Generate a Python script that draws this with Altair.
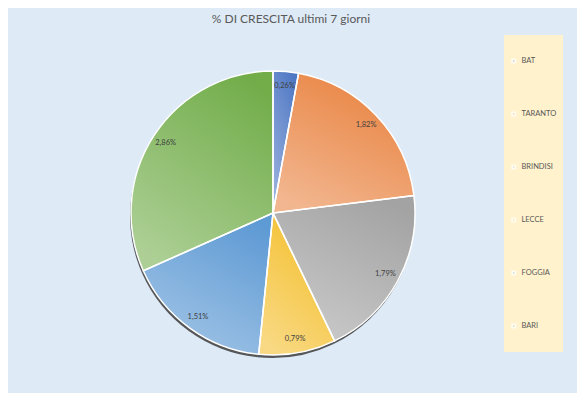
import altair as alt
import pandas as pd

# Data
provinces = ["BAT", "TARANTO", "BRINDISI", "LECCE", "FOGGIA", "BARI"]
growth = [0.26, 1.82, 1.79, 0.79, 1.51, 2.86]
colors = ["#4F78C4", "#E9823F", "#A3A3A3", "#F4BE2A", "#5E9AD4", "#72AD4A"]

df = pd.DataFrame({
    "provincia": provinces,
    "crescita": growth,
    "ordine": list(range(len(provinces))),
    "etichetta": [f"{v:.2f}%".replace(".", ",") for v in growth],
})

R = 142
FONT = "Lato"

base = alt.Chart(df)
theta = alt.Theta("crescita:Q", stack=True)
order = alt.Order("ordine:Q", sort="ascending")

shadow = base.mark_arc(outerRadius=R, yOffset=3, xOffset=-1, color="#3C3C3C", opacity=0.85).encode(
    theta=theta, order=order, detail="provincia:N"
)

slices = base.mark_arc(outerRadius=R).encode(
    theta=theta,
    order=order,
    color=alt.Color(
        "provincia:N",
        sort=provinces,
        scale=alt.Scale(domain=provinces, range=colors),
        legend=alt.Legend(
            orient="none", legendX=496, legendY=1, title=None,
            fillColor="#FFF2CC", padding=6, clipHeight=40, rowPadding=13,
            symbolType="square", symbolSize=9, symbolStrokeColor="white",
            symbolStrokeWidth=2, symbolOpacity=0.7, labelFont=FONT, labelFontSize=7.5,
            labelColor="#595959", labelOffset=4,
        ),
    ),
)

gradient = alt.LinearGradient(
    gradient="linear",
    stops=[
        alt.GradientStop(color="rgba(255,255,255,0)", offset=0),
        alt.GradientStop(color="rgba(255,255,255,0.42)", offset=1),
    ],
    x1=0.75, y1=0, x2=0.25, y2=1,
)

sheen = base.mark_arc(outerRadius=R, fill=gradient, stroke="white", strokeWidth=1.5).encode(
    theta=theta, order=order, detail="provincia:N"
)

labels = base.mark_text(radius=128, font=FONT, fontSize=7.5, color="#404040").encode(
    theta=theta, order=order, detail="provincia:N", text="etichetta:N"
)

chart = (
    alt.layer(shadow, slices, sheen, labels)
    .properties(
        width=530,
        height=358,
        autosize=alt.AutoSizeParams(type="none"),
        padding={"left": 0, "top": 26, "right": 39, "bottom": 1},
        background="#DEEAF6",
        title=alt.Title(
            "% DI CRESCITA ultimi 7 giorni",
            font=FONT, fontSize=12, fontWeight="normal", color="#595959",
            anchor="middle", offset=8, dx=18,
        ),
    )
    .configure_view(stroke=None)
)

chart.save("out.html", embed_options={"renderer": "svg", "actions": False})
